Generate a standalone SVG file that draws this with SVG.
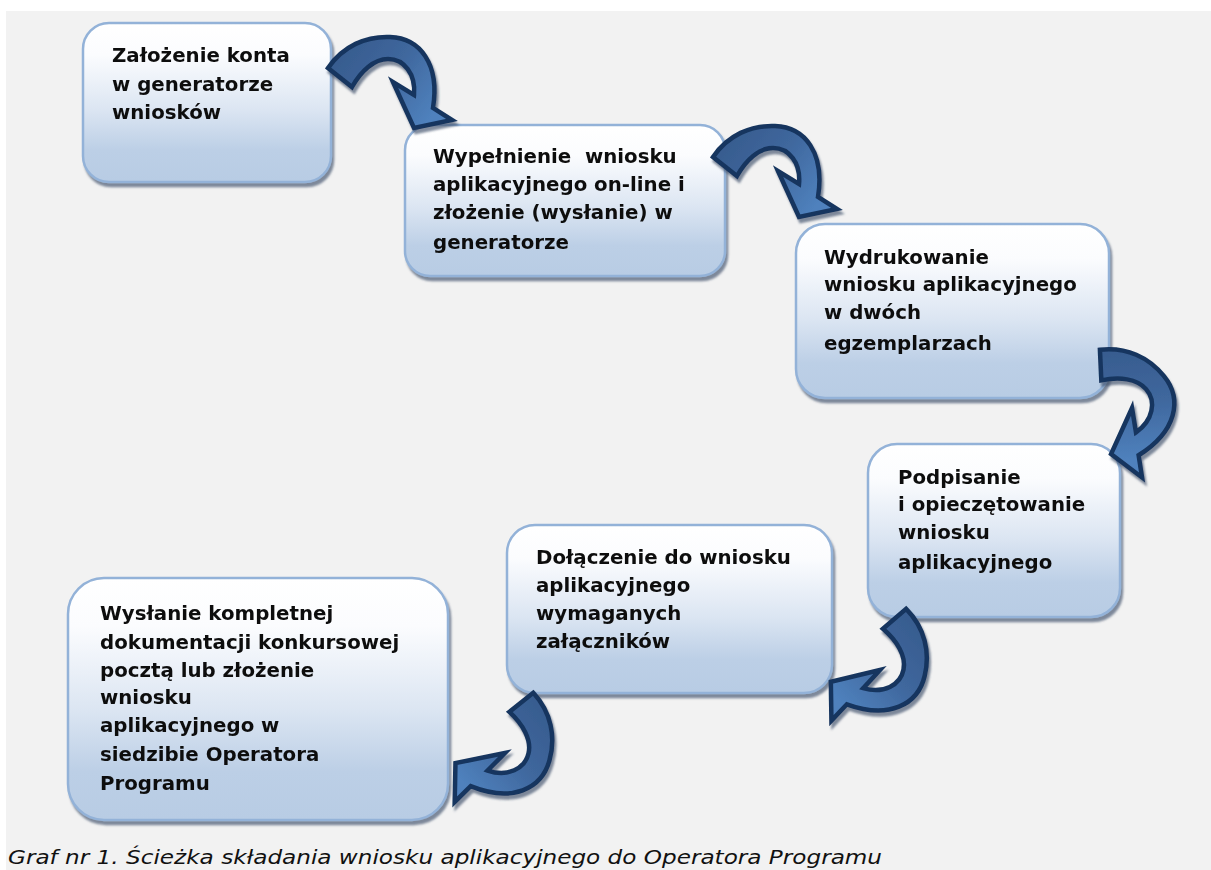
<svg xmlns="http://www.w3.org/2000/svg" xmlns:xlink="http://www.w3.org/1999/xlink" width="1211" height="870" viewBox="0 0 1211 870">
<style>
.box{fill:url(#boxGrad);stroke:#93b2d8;stroke-width:2.5}
.t{font-family:"DejaVu Sans","Liberation Sans",sans-serif;font-weight:bold;font-size:19.8px;fill:#111}
.cap{font-family:"DejaVu Sans","Liberation Sans",sans-serif;font-style:italic;font-size:20px;fill:#111}
.arr{fill:url(#arrGrad);stroke:#17355e;stroke-width:4.5;stroke-linejoin:miter;stroke-miterlimit:10}
</style>
<defs>
<linearGradient id="boxGrad" x1="0" y1="0" x2="0" y2="1">
<stop offset="0" stop-color="#ffffff"/>
<stop offset="0.2" stop-color="#fbfcfe"/>
<stop offset="0.55" stop-color="#dbe5f2"/>
<stop offset="0.8" stop-color="#bccfe6"/>
<stop offset="1" stop-color="#b8cce4"/>
</linearGradient>
<linearGradient id="arrGrad" gradientUnits="userSpaceOnUse" x1="345" y1="55" x2="430" y2="118">
<stop offset="0" stop-color="#385d90"/>
<stop offset="0.45" stop-color="#3f679d"/>
<stop offset="1" stop-color="#4f81bd"/>
</linearGradient>
<filter id="sh" x="-10%" y="-10%" width="125%" height="130%">
<feDropShadow dx="2" dy="4" stdDeviation="0.8" flood-color="#3d4f6a" flood-opacity="0.65"/>
</filter>
<path id="curv" class="arr" d="M328,68 C343,46 366,36 390,37 C420,38 440,64 433,108 L452,120 L414,128 L393,82 L414,95 C416,74 404,59 388,59 C374,59 361,71 352,87 Z"/>
</defs>
<rect x="0" y="0" width="1211" height="870" fill="#ffffff"/>
<rect x="6" y="11" width="1205" height="859" fill="#f2f2f2"/>

<g id="node1" filter="url(#sh)">
<rect class="box" x="83" y="23" width="248" height="159" rx="26"/>
<text class="t" x="112" y="62">Założenie konta</text>
<text class="t" x="112" y="91">w generatorze</text>
<text class="t" x="112" y="119">wniosków</text>
</g>
<g id="node2" filter="url(#sh)">
<rect class="box" x="405" y="125" width="320" height="151" rx="25"/>
<text class="t" x="433" y="163" style="white-space:pre" xml:space="preserve">Wypełnienie  wniosku</text>
<text class="t" x="433" y="191">aplikacyjnego on-line i</text>
<text class="t" x="433" y="219">złożenie (wysłanie) w</text>
<text class="t" x="433" y="249">generatorze</text>
</g>
<g id="node3" filter="url(#sh)">
<rect class="box" x="796" y="224" width="313" height="174" rx="29"/>
<text class="t" x="824" y="264">Wydrukowanie</text>
<text class="t" x="824" y="291">wniosku aplikacyjnego</text>
<text class="t" x="824" y="319">w dwóch</text>
<text class="t" x="824" y="350">egzemplarzach</text>
</g>
<g id="node4" filter="url(#sh)">
<rect class="box" x="868" y="444" width="252" height="173" rx="29"/>
<text class="t" x="898" y="484">Podpisanie</text>
<text class="t" x="898" y="511">i opieczętowanie</text>
<text class="t" x="898" y="539">wniosku</text>
<text class="t" x="898" y="569">aplikacyjnego</text>
</g>
<g id="node5" filter="url(#sh)">
<rect class="box" x="507" y="525" width="325" height="168" rx="28"/>
<text class="t" x="536" y="564">Dołączenie do wniosku</text>
<text class="t" x="536" y="592">aplikacyjnego</text>
<text class="t" x="536" y="620">wymaganych</text>
<text class="t" x="536" y="648">załączników</text>
</g>
<g id="node6" filter="url(#sh)">
<rect class="box" x="68" y="578" width="380" height="242" rx="36"/>
<text class="t" x="100" y="620">Wysłanie kompletnej</text>
<text class="t" x="100" y="649">dokumentacji konkursowej</text>
<text class="t" x="100" y="677">pocztą lub złożenie</text>
<text class="t" x="100" y="704">wniosku</text>
<text class="t" x="100" y="732">aplikacyjnego w</text>
<text class="t" x="100" y="761">siedzibie Operatora</text>
<text class="t" x="100" y="790">Programu</text>
</g>

<g id="connectors">
<g filter="url(#sh)"><use xlink:href="#curv"/></g>
<g filter="url(#sh)"><use xlink:href="#curv" transform="translate(385,89)"/></g>
<g filter="url(#sh)"><use xlink:href="#curv" transform="translate(1132,408) rotate(49) translate(-393,-82)"/></g>
<g filter="url(#sh)"><use xlink:href="#curv" transform="translate(880,670) rotate(101) translate(-393,-82)"/></g>
<g filter="url(#sh)"><use xlink:href="#curv" transform="translate(505,753) rotate(103) translate(-393,-82)"/></g>
</g>

<text class="cap" x="8" y="864" textLength="874" lengthAdjust="spacingAndGlyphs">Graf nr 1. Ścieżka składania wniosku aplikacyjnego do Operatora Programu</text>
</svg>
